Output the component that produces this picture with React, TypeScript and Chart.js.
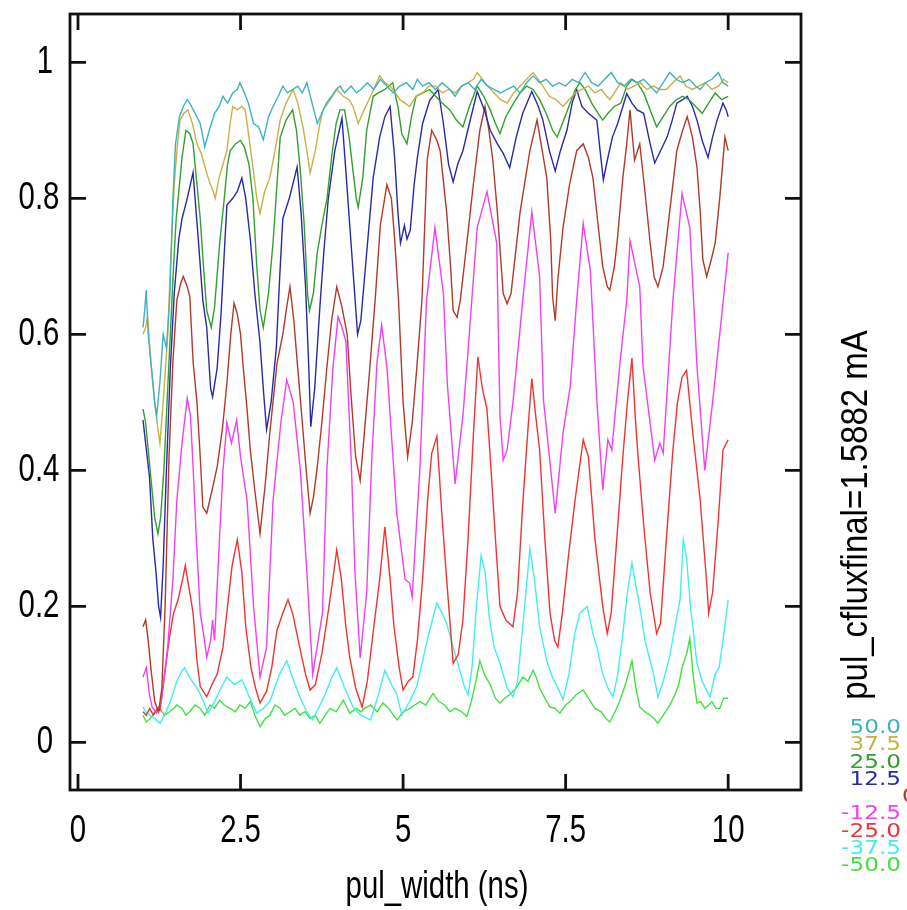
import React, { useEffect, useRef } from "react";
import { Chart, registerables } from "chart.js";

Chart.register(...registerables);

const W = 907;
const H = 910;
const X_MIN = -0.123;
const X_MAX = 11.12;
const Y_MIN = -0.07;
const Y_MAX = 1.071;

const xTicks = [0, 2.5, 5, 7.5, 10];
const xTickLabels = ["0", "2.5", "5", "7.5", "10"];
const yTicks = [0, 0.2, 0.4, 0.6, 0.8, 1];
const yTickLabels = ["0", "0.2", "0.4", "0.6", "0.8", "1"];

const xTitle = "pul_width (ns)";
const sideTitle = "pul_cfluxfinal=1.5882 mA";

const seriesLabels = ["50.0", "37.5", "25.0", "12.5", "0.0", "-12.5", "-25.0", "-37.5", "-50.0"];
const seriesColors = ["#3cb4bc", "#c8b048", "#30a030", "#2a2aa8", "#b23a2a", "#f040f0", "#f03434", "#44eeee", "#44e044"];

const p50: [number, number][] = [[1.00,0.61],[1.03,0.64],[1.05,0.665],[1.08,0.6],[1.12,0.56],[1.18,0.5],[1.21,0.48],[1.26,0.53],[1.31,0.6],[1.36,0.58],[1.41,0.65],[1.46,0.8],[1.5,0.88],[1.56,0.92],[1.62,0.935],[1.68,0.945],[1.72,0.94],[1.8,0.925],[1.88,0.91],[1.95,0.876],[2.02,0.9],[2.1,0.925],[2.17,0.935],[2.23,0.95],[2.3,0.94],[2.38,0.955],[2.45,0.96],[2.49,0.97],[2.56,0.955],[2.62,0.94],[2.7,0.91],[2.78,0.905],[2.85,0.886],[2.93,0.92],[3.0,0.935],[3.08,0.95],[3.15,0.965],[3.22,0.955],[3.3,0.96],[3.38,0.965],[3.45,0.955],[3.52,0.97],[3.6,0.94],[3.68,0.91],[3.75,0.925],[3.82,0.94],[3.9,0.95],[3.97,0.96],[4.03,0.965],[4.1,0.955],[4.2,0.965],[4.28,0.955],[4.35,0.96],[4.45,0.97],[4.55,0.96],[4.65,0.975],[4.75,0.965],[4.85,0.955],[4.95,0.965],[5.05,0.97],[5.15,0.96],[5.22,0.975],[5.3,0.965],[5.4,0.97],[5.5,0.96],[5.6,0.97],[5.72,0.96],[5.8,0.95],[5.9,0.965],[6.0,0.97],[6.1,0.96],[6.2,0.975],[6.3,0.965],[6.4,0.96],[6.5,0.955],[6.6,0.96],[6.7,0.965],[6.8,0.955],[6.9,0.97],[7.0,0.98],[7.1,0.97],[7.2,0.975],[7.3,0.965],[7.4,0.97],[7.5,0.965],[7.6,0.975],[7.7,0.97],[7.8,0.985],[7.9,0.97],[8.0,0.965],[8.1,0.975],[8.2,0.985],[8.3,0.97],[8.4,0.965],[8.5,0.975],[8.6,0.97],[8.7,0.975],[8.8,0.965],[8.9,0.955],[9.0,0.97],[9.1,0.985],[9.2,0.975],[9.3,0.97],[9.4,0.975],[9.5,0.965],[9.57,0.96],[9.65,0.97],[9.75,0.975],[9.85,0.985],[9.92,0.97],[10.0,0.965]];

const p375: [number, number][] = [[1.00,0.6],[1.04,0.61],[1.07,0.625],[1.12,0.56],[1.18,0.5],[1.23,0.46],[1.26,0.44],[1.31,0.5],[1.38,0.6],[1.43,0.72],[1.48,0.82],[1.53,0.88],[1.57,0.915],[1.63,0.925],[1.69,0.93],[1.76,0.91],[1.83,0.88],[1.9,0.865],[1.97,0.84],[2.03,0.822],[2.08,0.81],[2.11,0.8],[2.17,0.83],[2.23,0.85],[2.29,0.87],[2.34,0.91],[2.38,0.935],[2.45,0.93],[2.52,0.935],[2.57,0.93],[2.63,0.89],[2.69,0.846],[2.75,0.8],[2.8,0.778],[2.87,0.81],[2.95,0.83],[3.03,0.87],[3.11,0.915],[3.2,0.94],[3.31,0.96],[3.38,0.94],[3.46,0.905],[3.52,0.87],[3.57,0.837],[3.65,0.87],[3.72,0.91],[3.77,0.93],[3.88,0.945],[3.98,0.96],[4.08,0.95],[4.17,0.945],[4.23,0.935],[4.31,0.91],[4.4,0.93],[4.5,0.95],[4.57,0.965],[4.64,0.98],[4.72,0.97],[4.8,0.965],[4.88,0.955],[4.95,0.945],[5.03,0.94],[5.1,0.935],[5.2,0.95],[5.3,0.955],[5.4,0.965],[5.5,0.965],[5.6,0.955],[5.7,0.96],[5.8,0.955],[5.9,0.965],[6.0,0.97],[6.08,0.975],[6.14,0.985],[6.22,0.975],[6.3,0.965],[6.4,0.955],[6.5,0.945],[6.6,0.94],[6.7,0.955],[6.8,0.965],[6.9,0.975],[7.0,0.985],[7.08,0.975],[7.15,0.965],[7.25,0.95],[7.35,0.945],[7.46,0.935],[7.55,0.945],[7.65,0.955],[7.75,0.96],[7.85,0.965],[7.95,0.955],[8.05,0.96],[8.13,0.95],[8.18,0.945],[8.25,0.955],[8.35,0.97],[8.45,0.96],[8.55,0.965],[8.65,0.97],[8.75,0.96],[8.85,0.965],[8.95,0.96],[9.05,0.96],[9.15,0.97],[9.26,0.98],[9.35,0.965],[9.45,0.96],[9.55,0.965],[9.65,0.97],[9.75,0.96],[9.85,0.965],[9.93,0.975],[10.0,0.97]];

const p25: [number, number][] = [[1.00,0.49],[1.04,0.47],[1.08,0.43],[1.13,0.38],[1.18,0.33],[1.23,0.307],[1.27,0.33],[1.32,0.4],[1.37,0.5],[1.42,0.6],[1.47,0.7],[1.51,0.77],[1.54,0.8],[1.6,0.86],[1.66,0.9],[1.72,0.895],[1.77,0.88],[1.83,0.82],[1.88,0.77],[1.93,0.7],[1.98,0.635],[2.05,0.61],[2.1,0.64],[2.18,0.735],[2.25,0.8],[2.3,0.85],[2.34,0.87],[2.42,0.88],[2.5,0.885],[2.56,0.875],[2.63,0.85],[2.69,0.8],[2.75,0.7],[2.8,0.635],[2.85,0.61],[2.93,0.66],[3.0,0.735],[3.06,0.82],[3.11,0.89],[3.2,0.915],[3.3,0.93],[3.36,0.9],[3.42,0.84],[3.48,0.76],[3.53,0.66],[3.56,0.635],[3.62,0.66],[3.68,0.72],[3.75,0.76],[3.83,0.8],[3.9,0.86],[3.97,0.91],[4.03,0.93],[4.1,0.93],[4.17,0.89],[4.23,0.84],[4.28,0.8],[4.31,0.787],[4.38,0.83],[4.44,0.9],[4.54,0.95],[4.62,0.955],[4.72,0.96],[4.84,0.97],[4.92,0.935],[4.98,0.895],[5.06,0.88],[5.13,0.92],[5.2,0.95],[5.3,0.955],[5.41,0.96],[5.5,0.95],[5.6,0.94],[5.72,0.93],[5.82,0.915],[5.92,0.905],[6.02,0.935],[6.1,0.955],[6.14,0.965],[6.24,0.95],[6.34,0.93],[6.42,0.91],[6.49,0.895],[6.58,0.92],[6.7,0.94],[6.8,0.955],[6.9,0.965],[7.0,0.96],[7.1,0.945],[7.2,0.925],[7.3,0.9],[7.37,0.89],[7.45,0.91],[7.55,0.935],[7.65,0.96],[7.72,0.97],[7.8,0.96],[7.9,0.94],[8.0,0.925],[8.07,0.915],[8.15,0.925],[8.25,0.935],[8.35,0.94],[8.44,0.965],[8.52,0.975],[8.6,0.97],[8.7,0.955],[8.8,0.93],[8.9,0.905],[9.0,0.92],[9.1,0.935],[9.2,0.945],[9.3,0.95],[9.4,0.945],[9.5,0.935],[9.6,0.925],[9.7,0.94],[9.8,0.955],[9.9,0.945],[10.0,0.95]];

const p125: [number, number][] = [[1.00,0.474],[1.04,0.44],[1.1,0.39],[1.15,0.3],[1.2,0.25],[1.24,0.2],[1.27,0.184],[1.31,0.26],[1.36,0.4],[1.42,0.55],[1.48,0.66],[1.55,0.74],[1.6,0.77],[1.68,0.8],[1.77,0.838],[1.8,0.8],[1.85,0.74],[1.92,0.65],[1.98,0.61],[2.04,0.52],[2.07,0.508],[2.14,0.55],[2.2,0.63],[2.25,0.72],[2.29,0.79],[2.38,0.8],[2.45,0.81],[2.52,0.83],[2.58,0.8],[2.65,0.74],[2.72,0.66],[2.8,0.587],[2.85,0.52],[2.9,0.46],[2.97,0.5],[3.05,0.58],[3.1,0.68],[3.15,0.77],[3.25,0.8],[3.37,0.846],[3.43,0.78],[3.5,0.67],[3.55,0.55],[3.58,0.464],[3.64,0.52],[3.72,0.64],[3.78,0.72],[3.85,0.8],[3.95,0.87],[4.06,0.918],[4.12,0.84],[4.18,0.76],[4.24,0.68],[4.3,0.6],[4.35,0.62],[4.44,0.72],[4.54,0.83],[4.64,0.89],[4.72,0.92],[4.8,0.935],[4.87,0.86],[4.92,0.78],[4.96,0.734],[5.02,0.76],[5.06,0.74],[5.11,0.753],[5.17,0.82],[5.22,0.86],[5.3,0.91],[5.41,0.944],[5.54,0.96],[5.62,0.91],[5.7,0.85],[5.77,0.824],[5.84,0.85],[5.92,0.87],[6.02,0.91],[6.14,0.957],[6.25,0.93],[6.34,0.9],[6.45,0.88],[6.54,0.866],[6.64,0.845],[6.74,0.89],[6.84,0.925],[6.98,0.957],[7.08,0.935],[7.15,0.915],[7.25,0.87],[7.34,0.84],[7.42,0.87],[7.52,0.9],[7.6,0.94],[7.67,0.96],[7.75,0.935],[7.85,0.925],[7.98,0.915],[8.03,0.87],[8.08,0.827],[8.15,0.86],[8.22,0.89],[8.3,0.91],[8.38,0.935],[8.44,0.954],[8.52,0.94],[8.6,0.93],[8.7,0.925],[8.8,0.88],[8.87,0.852],[8.96,0.87],[9.06,0.89],[9.14,0.915],[9.21,0.94],[9.3,0.945],[9.37,0.95],[9.45,0.935],[9.52,0.915],[9.6,0.885],[9.69,0.86],[9.76,0.89],[9.83,0.915],[9.92,0.94],[9.97,0.93],[10.0,0.92]];

const p0: [number, number][] = [[1.00,0.17],[1.04,0.18],[1.08,0.15],[1.12,0.11],[1.18,0.06],[1.24,0.045],[1.29,0.08],[1.34,0.2],[1.4,0.42],[1.46,0.56],[1.52,0.65],[1.58,0.675],[1.62,0.685],[1.68,0.67],[1.72,0.655],[1.77,0.56],[1.83,0.5],[1.88,0.42],[1.92,0.346],[1.98,0.337],[2.06,0.37],[2.14,0.405],[2.22,0.46],[2.29,0.528],[2.35,0.6],[2.4,0.646],[2.45,0.63],[2.5,0.6],[2.54,0.553],[2.6,0.49],[2.65,0.43],[2.72,0.37],[2.8,0.307],[2.88,0.38],[2.95,0.455],[3.06,0.557],[3.15,0.6],[3.21,0.64],[3.26,0.67],[3.32,0.62],[3.38,0.55],[3.45,0.47],[3.51,0.4],[3.57,0.337],[3.62,0.36],[3.68,0.405],[3.75,0.47],[3.83,0.553],[3.9,0.62],[3.98,0.67],[4.06,0.64],[4.14,0.6],[4.2,0.51],[4.27,0.42],[4.34,0.385],[4.4,0.45],[4.49,0.553],[4.57,0.65],[4.65,0.76],[4.75,0.82],[4.82,0.8],[4.87,0.74],[4.93,0.65],[5.0,0.5],[5.07,0.42],[5.14,0.47],[5.21,0.55],[5.29,0.65],[5.37,0.856],[5.44,0.9],[5.52,0.885],[5.57,0.87],[5.67,0.78],[5.73,0.7],[5.77,0.635],[5.83,0.625],[5.88,0.65],[5.98,0.734],[6.08,0.82],[6.18,0.9],[6.26,0.935],[6.32,0.9],[6.38,0.856],[6.45,0.78],[6.54,0.66],[6.6,0.645],[6.66,0.66],[6.8,0.78],[6.95,0.87],[7.06,0.915],[7.14,0.87],[7.21,0.83],[7.27,0.74],[7.3,0.655],[7.34,0.62],[7.38,0.68],[7.46,0.757],[7.56,0.82],[7.67,0.87],[7.77,0.88],[7.85,0.86],[7.92,0.83],[8.0,0.76],[8.07,0.7],[8.14,0.67],[8.18,0.665],[8.25,0.7],[8.29,0.734],[8.38,0.83],[8.44,0.88],[8.49,0.93],[8.56,0.856],[8.64,0.88],[8.72,0.81],[8.8,0.734],[8.86,0.685],[8.92,0.67],[9.0,0.7],[9.1,0.78],[9.21,0.87],[9.3,0.9],[9.37,0.92],[9.45,0.89],[9.52,0.846],[9.57,0.78],[9.61,0.71],[9.67,0.685],[9.74,0.71],[9.8,0.734],[9.87,0.8],[9.95,0.89],[10.0,0.87]];

const pm125: [number, number][] = [[1.00,0.096],[1.05,0.11],[1.1,0.07],[1.14,0.052],[1.21,0.043],[1.28,0.06],[1.38,0.14],[1.46,0.24],[1.52,0.356],[1.6,0.44],[1.68,0.506],[1.73,0.48],[1.77,0.405],[1.82,0.3],[1.88,0.19],[1.93,0.16],[1.98,0.125],[2.04,0.15],[2.07,0.18],[2.1,0.15],[2.18,0.307],[2.23,0.4],[2.29,0.47],[2.36,0.44],[2.44,0.474],[2.5,0.42],[2.6,0.356],[2.7,0.2],[2.8,0.096],[2.9,0.14],[3.0,0.356],[3.12,0.47],[3.21,0.533],[3.31,0.5],[3.42,0.4],[3.52,0.25],[3.61,0.1],[3.76,0.19],[3.83,0.405],[3.92,0.55],[4.0,0.626],[4.06,0.61],[4.12,0.59],[4.2,0.42],[4.26,0.25],[4.34,0.124],[4.44,0.22],[4.52,0.42],[4.6,0.56],[4.67,0.614],[4.75,0.553],[4.9,0.34],[5.03,0.24],[5.1,0.234],[5.14,0.214],[5.26,0.405],[5.36,0.65],[5.49,0.757],[5.62,0.66],[5.68,0.528],[5.8,0.38],[5.92,0.48],[6.0,0.577],[6.14,0.757],[6.29,0.81],[6.44,0.734],[6.49,0.48],[6.54,0.415],[6.6,0.43],[6.69,0.5],[6.84,0.65],[6.98,0.78],[7.1,0.685],[7.16,0.503],[7.34,0.337],[7.46,0.455],[7.57,0.523],[7.67,0.65],[7.77,0.763],[7.88,0.694],[7.98,0.503],[8.07,0.371],[8.15,0.445],[8.21,0.43],[8.33,0.553],[8.44,0.65],[8.49,0.738],[8.64,0.67],[8.69,0.553],[8.87,0.415],[8.95,0.44],[9.0,0.425],[9.15,0.65],[9.29,0.807],[9.41,0.757],[9.52,0.553],[9.64,0.4],[9.76,0.5],[9.87,0.6],[10.0,0.72]];

const pm25: [number, number][] = [[1.00,0.045],[1.05,0.04],[1.1,0.05],[1.16,0.04],[1.22,0.05],[1.26,0.047],[1.32,0.09],[1.4,0.15],[1.47,0.19],[1.54,0.21],[1.61,0.24],[1.65,0.26],[1.72,0.22],[1.77,0.19],[1.83,0.12],[1.88,0.082],[1.98,0.067],[2.06,0.085],[2.14,0.1],[2.23,0.14],[2.3,0.2],[2.37,0.26],[2.45,0.298],[2.52,0.25],[2.58,0.17],[2.66,0.11],[2.73,0.08],[2.8,0.058],[2.9,0.075],[2.98,0.11],[3.06,0.165],[3.15,0.19],[3.23,0.21],[3.3,0.19],[3.41,0.14],[3.5,0.1],[3.57,0.077],[3.65,0.085],[3.75,0.13],[3.83,0.18],[3.92,0.24],[3.98,0.283],[4.05,0.24],[4.12,0.17],[4.18,0.125],[4.27,0.08],[4.37,0.052],[4.45,0.09],[4.55,0.17],[4.64,0.24],[4.72,0.317],[4.8,0.24],[4.86,0.17],[4.94,0.11],[5.0,0.077],[5.08,0.09],[5.15,0.096],[5.22,0.15],[5.3,0.24],[5.38,0.36],[5.44,0.425],[5.52,0.45],[5.6,0.33],[5.67,0.24],[5.77,0.116],[5.85,0.13],[5.92,0.18],[6.0,0.3],[6.08,0.45],[6.15,0.567],[6.22,0.52],[6.29,0.49],[6.34,0.42],[6.42,0.3],[6.49,0.2],[6.58,0.18],[6.69,0.17],[6.76,0.22],[6.84,0.35],[6.92,0.46],[6.98,0.535],[7.04,0.48],[7.1,0.43],[7.18,0.3],[7.26,0.19],[7.33,0.15],[7.38,0.14],[7.45,0.19],[7.55,0.28],[7.65,0.36],[7.77,0.445],[7.85,0.42],[7.95,0.3],[8.07,0.2],[8.14,0.16],[8.2,0.19],[8.28,0.29],[8.38,0.42],[8.45,0.5],[8.52,0.565],[8.57,0.48],[8.61,0.425],[8.7,0.32],[8.8,0.22],[8.9,0.16],[8.96,0.175],[9.05,0.3],[9.15,0.43],[9.22,0.5],[9.29,0.537],[9.36,0.547],[9.45,0.46],[9.57,0.356],[9.67,0.234],[9.7,0.19],[9.76,0.22],[9.85,0.33],[9.92,0.43],[10.0,0.445]];

const pm375: [number, number][] = [[1.00,0.052],[1.04,0.045],[1.1,0.04],[1.18,0.035],[1.26,0.028],[1.33,0.04],[1.42,0.06],[1.52,0.09],[1.6,0.105],[1.64,0.11],[1.72,0.095],[1.85,0.077],[1.93,0.06],[2.0,0.043],[2.1,0.06],[2.2,0.08],[2.29,0.096],[2.4,0.085],[2.52,0.092],[2.62,0.07],[2.75,0.043],[2.85,0.05],[2.95,0.06],[3.1,0.1],[3.21,0.12],[3.32,0.09],[3.41,0.067],[3.52,0.045],[3.61,0.033],[3.72,0.055],[3.8,0.07],[3.9,0.095],[3.98,0.11],[4.1,0.08],[4.23,0.052],[4.35,0.04],[4.5,0.033],[4.62,0.07],[4.72,0.106],[4.82,0.085],[4.9,0.072],[4.98,0.04],[5.1,0.06],[5.21,0.082],[5.3,0.12],[5.37,0.15],[5.45,0.18],[5.52,0.205],[5.6,0.19],[5.67,0.175],[5.77,0.14],[5.87,0.106],[5.95,0.08],[6.0,0.07],[6.06,0.11],[6.12,0.19],[6.2,0.275],[6.26,0.25],[6.33,0.18],[6.4,0.14],[6.49,0.116],[6.6,0.08],[6.69,0.067],[6.76,0.09],[6.85,0.18],[6.95,0.285],[7.02,0.24],[7.1,0.17],[7.21,0.12],[7.3,0.095],[7.37,0.082],[7.46,0.063],[7.55,0.1],[7.64,0.16],[7.72,0.19],[7.83,0.2],[7.92,0.16],[7.98,0.14],[8.07,0.1],[8.15,0.08],[8.23,0.067],[8.3,0.1],[8.38,0.16],[8.45,0.22],[8.52,0.264],[8.58,0.23],[8.64,0.2],[8.72,0.15],[8.8,0.12],[8.84,0.106],[8.92,0.067],[9.0,0.09],[9.1,0.126],[9.2,0.18],[9.26,0.21],[9.31,0.298],[9.36,0.27],[9.42,0.2],[9.52,0.116],[9.6,0.09],[9.72,0.067],[9.8,0.1],[9.86,0.11],[9.92,0.15],[10.0,0.21]];

const pm50: [number, number][] = [[1.00,0.04],[1.05,0.03],[1.11,0.035],[1.18,0.045],[1.26,0.05],[1.33,0.04],[1.41,0.045],[1.47,0.05],[1.52,0.055],[1.6,0.05],[1.66,0.04],[1.72,0.045],[1.8,0.055],[1.88,0.05],[1.95,0.04],[2.03,0.055],[2.1,0.05],[2.18,0.062],[2.25,0.055],[2.34,0.05],[2.42,0.045],[2.49,0.055],[2.57,0.05],[2.65,0.06],[2.72,0.04],[2.8,0.023],[2.88,0.035],[2.95,0.04],[3.03,0.055],[3.11,0.05],[3.18,0.04],[3.26,0.045],[3.34,0.05],[3.41,0.04],[3.49,0.045],[3.57,0.035],[3.65,0.04],[3.72,0.028],[3.8,0.04],[3.88,0.05],[3.97,0.045],[4.08,0.062],[4.18,0.043],[4.28,0.05],[4.35,0.045],[4.41,0.05],[4.5,0.055],[4.6,0.045],[4.69,0.058],[4.78,0.05],[4.85,0.04],[4.91,0.033],[5.0,0.045],[5.11,0.05],[5.18,0.055],[5.26,0.06],[5.35,0.055],[5.46,0.072],[5.55,0.06],[5.64,0.055],[5.72,0.045],[5.8,0.05],[5.9,0.045],[5.98,0.038],[6.05,0.06],[6.12,0.09],[6.18,0.12],[6.25,0.1],[6.34,0.085],[6.42,0.065],[6.49,0.058],[6.56,0.065],[6.64,0.07],[6.74,0.08],[6.84,0.096],[6.92,0.09],[7.0,0.106],[7.05,0.095],[7.1,0.08],[7.18,0.065],[7.26,0.052],[7.34,0.05],[7.41,0.043],[7.5,0.055],[7.57,0.06],[7.66,0.07],[7.77,0.077],[7.85,0.065],[7.95,0.05],[8.05,0.045],[8.12,0.035],[8.18,0.03],[8.26,0.045],[8.33,0.06],[8.42,0.085],[8.52,0.12],[8.58,0.08],[8.64,0.052],[8.72,0.045],[8.8,0.04],[8.86,0.035],[8.92,0.028],[9.0,0.04],[9.07,0.05],[9.13,0.06],[9.18,0.07],[9.24,0.085],[9.29,0.11],[9.36,0.13],[9.41,0.153],[9.46,0.1],[9.52,0.058],[9.58,0.06],[9.64,0.05],[9.7,0.055],[9.75,0.06],[9.81,0.05],[9.87,0.05],[9.93,0.065],[10.0,0.065]];

const seriesData = [p50, p375, p25, p125, p0, pm125, pm25, pm375, pm50];

const BIG_FONT = '33px "Liberation Sans", Arial, sans-serif';
const SX = 0.89;
const SY = 1.18;

function drawText(
  ctx: CanvasRenderingContext2D,
  s: string,
  x: number,
  y: number,
  font: string,
  sx: number,
  sy: number,
  align: CanvasTextAlign,
  baseline: CanvasTextBaseline,
  rot = 0,
  color = "#000"
) {
  ctx.save();
  ctx.translate(x, y);
  if (rot) ctx.rotate(rot);
  ctx.scale(sx, sy);
  ctx.font = font;
  ctx.textAlign = align;
  ctx.textBaseline = baseline;
  ctx.fillStyle = color;
  ctx.fillText(s, 0, 0);
  ctx.restore();
}

const bgPlugin = {
  id: "bg",
  beforeDraw(chart: any) {
    const ctx = chart.ctx;
    ctx.save();
    ctx.fillStyle = "#fff";
    ctx.fillRect(0, 0, chart.width, chart.height);
    ctx.restore();
  },
};

const decoPlugin = {
  id: "deco",
  afterDraw(chart: any) {
    const ctx: CanvasRenderingContext2D = chart.ctx;
    const ca = chart.chartArea;
    const xs = chart.scales.x;
    const ys = chart.scales.y;
    ctx.save();
    ctx.strokeStyle = "#111";
    ctx.lineWidth = 2.8;
    ctx.strokeRect(ca.left, ca.top, ca.right - ca.left, ca.bottom - ca.top);
    const TL = 16;
    ctx.beginPath();
    xTicks.forEach((v) => {
      const px = xs.getPixelForValue(v);
      ctx.moveTo(px, ca.bottom);
      ctx.lineTo(px, ca.bottom - TL);
      ctx.moveTo(px, ca.top);
      ctx.lineTo(px, ca.top + TL);
    });
    yTicks.forEach((v) => {
      const py = ys.getPixelForValue(v);
      ctx.moveTo(ca.left, py);
      ctx.lineTo(ca.left + TL, py);
      ctx.moveTo(ca.right, py);
      ctx.lineTo(ca.right - TL, py);
    });
    ctx.stroke();
    ctx.restore();

    xTicks.forEach((v, i) => {
      const px = xs.getPixelForValue(v);
      drawText(ctx, xTickLabels[i], px, ca.bottom + 41, BIG_FONT, SX, SY, "center", "middle");
    });
    yTicks.forEach((v, i) => {
      const py = ys.getPixelForValue(v);
      const lab = yTickLabels[i];
      drawText(ctx, lab, lab.length === 1 ? 45 : 39, py, BIG_FONT, SX, SY, "center", "middle");
    });
    drawText(ctx, xTitle, 437, 887, BIG_FONT, SX, SY, "center", "middle");
    drawText(ctx, sideTitle, 857, 515, BIG_FONT, 1.0, 1.12, "center", "middle", -Math.PI / 2);

    const legFont = '19px "DejaVu Sans", sans-serif';
    seriesLabels.forEach((lab, i) => {
      const y = 728 + i * 17.3;
      if (lab === "0.0") {
        drawText(ctx, lab, 902, y, legFont, 1.22, 1, "left", "middle", 0, seriesColors[i]);
      } else {
        drawText(ctx, lab, 901, y, legFont, 1.22, 1, "right", "middle", 0, seriesColors[i]);
      }
    });
  },
};

export default function App() {
  const ref = useRef<HTMLCanvasElement | null>(null);
  useEffect(() => {
    if (!ref.current) return;
    const datasets = seriesData.map((pts, i) => ({
      label: seriesLabels[i],
      data: pts.map(([x, y]) => ({ x, y })),
      borderColor: seriesColors[i],
      backgroundColor: seriesColors[i],
      borderWidth: 1.4,
      pointRadius: 0,
      tension: 0,
      fill: false,
    }));
    const chart = new Chart(ref.current, {
      type: "line",
      data: { datasets },
      options: {
        animation: false,
        responsive: false,
        devicePixelRatio: 1,
        layout: { padding: { left: 70, top: 14, right: W - 801, bottom: H - 790 } },
        plugins: { legend: { display: false }, tooltip: { enabled: false }, title: { display: false } },
        scales: {
          x: { type: "linear", min: X_MIN, max: X_MAX, display: false },
          y: { type: "linear", min: Y_MIN, max: Y_MAX, display: false },
        },
      },
      plugins: [bgPlugin, decoPlugin],
    });
    return () => chart.destroy();
  }, []);
  return (
    <div style={{ position: "fixed", left: 0, top: 0, width: W, height: H, background: "#fff" }}>
      <canvas ref={ref} width={W} height={H} style={{ display: "block", width: W, height: H }} />
    </div>
  );
}
